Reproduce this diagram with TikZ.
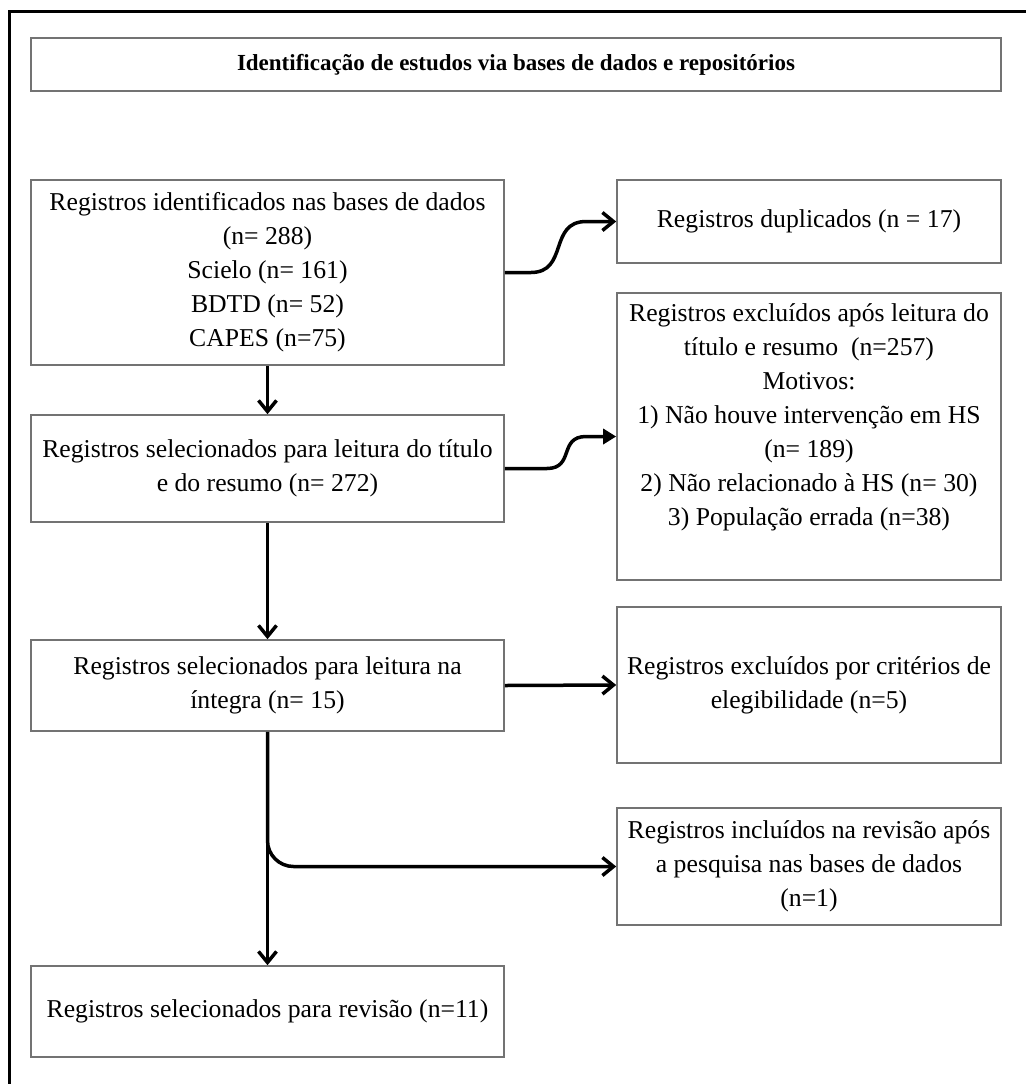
\documentclass[tikz,border=0pt]{standalone}
\usepackage{fontspec}
\setmainfont{Liberation Serif}
\usetikzlibrary{arrows.meta}
\definecolor{boxgray}{RGB}{115,115,115}
\begin{document}
\begin{tikzpicture}[x=0.5pt,y=-0.5pt,
  box/.style={draw=boxgray, line width=0.8pt, inner sep=0pt, align=center,
    font=\fontsize{12.85pt}{17pt}\selectfont, minimum width=236.5pt},
  rbox/.style={box, minimum width=192pt},
  txt/.style={inner sep=0pt, align=center, font=\fontsize{12.85pt}{17pt}\selectfont},
  arr/.style={line width=1.75pt, -{Straight Barb[length=5.5pt,width=9pt]}},
  arrtri/.style={line width=1.75pt, -{Triangle[length=6.5pt,width=7.5pt]}}
]
\useasboundingbox (0,0) rectangle (1026,1084);
\fill[white] (0,0) rectangle (1026,1084);
% outer frame (only top and left visible)
\draw[line width=1.4pt] (9.5,1084) -- (9.5,11.5) -- (1026,11.5);

\node[box, minimum width=485pt, minimum height=26.5pt,
  font=\fontsize{11.5pt}{14pt}\selectfont\bfseries] (title) at (516,64.5)
  {Identificação de estudos via bases de dados e repositórios};

\node[box, minimum height=92.5pt] (b1) at (267.5,272.5)
  {Registros identificados nas bases de dados\\(n= 288)\\Scielo (n= 161)\\BDTD (n= 52)\\CAPES (n=75)};
\node[rbox, minimum height=41.5pt] (dup) at (809,221.5)
  {Registros duplicados (n = 17)};
\node[box, minimum height=53.5pt] (b2) at (267.5,468.5)
  {Registros selecionados para leitura do título\\e do resumo (n= 272)};
\node[rbox, minimum height=143.5pt] (excl) at (809,436.5) {};
\node[txt, anchor=north] (exclt) at ([yshift=-5.5pt]excl.north)
  {Registros excluídos após leitura do\\título e resumo\ \ (n=257)\\Motivos:\\1) Não houve intervenção em HS\\(n= 189)\\2) Não relacionado à HS (n= 30)\\3) População errada (n=38)};
\node[box, minimum height=45.5pt] (b3) at (267.5,685.5)
  {Registros selecionados para leitura na\\íntegra (n= 15)};
\node[rbox, minimum height=78pt] (elig) at (809,685)
  {Registros excluídos por critérios de\\elegibilidade (n=5)};
\node[rbox, minimum height=58.5pt] (incl) at (809,866.5)
  {Registros incluídos na revisão após\\a pesquisa nas bases de dados\\(n=1)};
\node[box, minimum height=45.5pt] (fin) at (267.5,1011.5)
  {Registros selecionados para revisão (n=11)};

% connectors
\draw[arr] (b1.south) -- (b2.north);
\draw[arr] (b2.south) -- (b3.north);
\draw[arr] (b3.south) -- (fin.north);
\draw[arr] (b3.east) -- (elig.west);
\draw[arr, rounded corners=13pt] (b3.south) |- (incl.west);
\draw[arr] (b1.east) -- ++(26,0) .. controls +(38,0) and +(-38,0) .. ([xshift=-15pt]dup.west) -- (dup.west);
\draw[arrtri] (b2.east) -- ++(42,0) .. controls +(28,0) and +(-28,0) .. ([xshift=-15pt]excl.west) -- (excl.west);
\end{tikzpicture}
\end{document}
